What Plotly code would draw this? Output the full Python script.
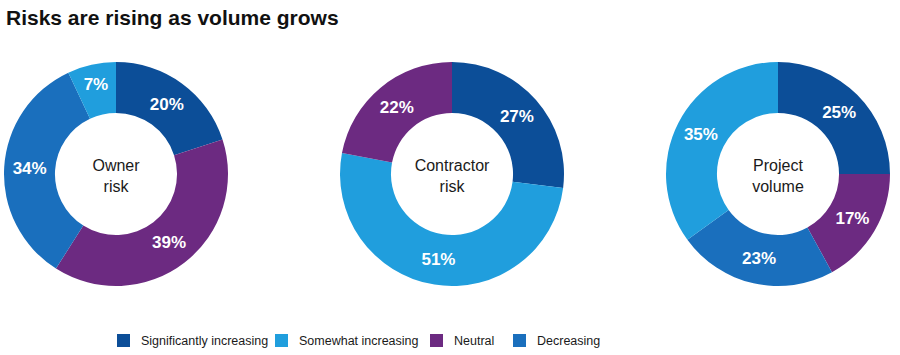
import plotly.graph_objects as go

title_text = "Risks are rising as volume grows"
categories = ["Significantly increasing", "Somewhat increasing", "Neutral", "Decreasing"]
colors = {"Significantly increasing": "#0C4E98",
          "Somewhat increasing": "#209EDD",
          "Neutral": "#6C2A81",
          "Decreasing": "#1A6FBD"}

chart_names = ["Owner<br>risk", "Contractor<br>risk", "Project<br>volume"]
owner_labels = ["Significantly increasing", "Neutral", "Decreasing", "Somewhat increasing"]
owner_values = [20, 39, 34, 7]
contractor_labels = ["Significantly increasing", "Somewhat increasing", "Neutral"]
contractor_values = [27, 51, 22]
project_labels = ["Significantly increasing", "Neutral", "Decreasing", "Somewhat increasing"]
project_values = [25, 17, 23, 35]

W, H = 900, 355
centers_x = [116, 452, 778]
center_y = 174
radius = 112
FONT = "Liberation Sans, Arial, sans-serif"

fig = go.Figure()
series = [(owner_labels, owner_values), (contractor_labels, contractor_values), (project_labels, project_values)]
for (labels, values), name, cx in zip(series, chart_names, centers_x):
    yb = H - center_y
    fig.add_trace(go.Pie(
        labels=labels, values=values, sort=False, direction="clockwise", rotation=0,
        hole=0.545,
        marker=dict(colors=[colors[l] for l in labels], line=dict(width=0)),
        texttemplate="%{value}%", textposition="inside", insidetextorientation="horizontal",
        textfont=dict(family=FONT, size=17, color="white", weight="bold"),
        title=dict(text=name, position="middle center",
                   font=dict(family=FONT, size=16, color="#1a1a1a")),
        domain=dict(x=[(cx - radius) / W, (cx + radius) / W], y=[(yb - radius) / H, (yb + radius) / H]),
        showlegend=False, hoverinfo="label+percent",
    ))

# manual legend
legend_sq_x = [117, 275, 430, 513]
legend_txt_x = [139, 297, 452, 535]
legend_y = 340.5
shapes = []
annotations = []
for cat, sx, tx in zip(categories, legend_sq_x, legend_txt_x):
    shapes.append(dict(type="rect", xref="paper", yref="paper",
                       x0=sx / W, x1=(sx + 13) / W,
                       y0=(H - legend_y - 6.5) / H, y1=(H - legend_y + 6.5) / H,
                       fillcolor=colors[cat], line=dict(width=0)))
    annotations.append(dict(text=cat, xref="paper", yref="paper", x=tx / W, y=(H - legend_y) / H,
                            xanchor="left", yanchor="middle", showarrow=False,
                            font=dict(family=FONT, size=12.5, color="#1a1a1a")))

annotations.append(dict(text="<b>" + title_text + "</b>", xref="paper", yref="paper",
                        x=4 / W, y=(H - 17.5) / H, xanchor="left", yanchor="middle", showarrow=False,
                        font=dict(family=FONT, size=21, color="#111111")))

fig.update_layout(width=W, height=H, margin=dict(l=0, r=0, t=0, b=0),
                  paper_bgcolor="white", plot_bgcolor="white",
                  shapes=shapes, annotations=annotations, showlegend=False)

fig.write_html("out.html", config={"displayModeBar": False},
               post_script="document.body.style.margin='0';document.body.style.overflow='hidden';")
